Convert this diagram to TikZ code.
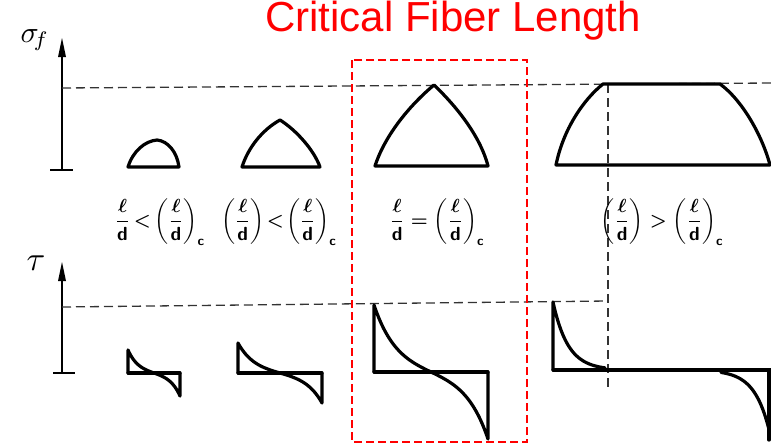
\documentclass[tikz,border=0pt]{standalone}
\usepackage{fontspec}
\newfontfamily\titlefont{Liberation Sans}
\begin{document}
\begin{tikzpicture}[x=1pt, y=-1pt,
   prof/.style={line width=3.2pt, line join=round, line cap=round},
   stem/.style={line width=2.6pt},
   guide/.style={line width=1.3pt, black!80, dash pattern=on 9pt off 5pt},
   redbox/.style={line width=2.4pt, red, dash pattern=on 8pt off 4pt},
   ratio/.style={scale=1.9, font=\boldmath}]
   \useasboundingbox (0,0) rectangle (771,447);
   % title
   \node[text=red, font=\titlefont\fontsize{42}{48}\selectfont] (title) at (453,21) {Critical Fiber Length};
   % axes
   \draw[stem] (62,170) -- (62,50);
   \fill (62,38) -- (66,57) -- (58,57) -- cycle;
   \draw[stem] (50,170) -- (73,170);
   \node[scale=3, inner sep=0pt] (sig) at (35,40) {$\sigma_{\!f}$};
   \draw[stem] (62,373) -- (62,274);
   \fill (62,262) -- (66,281) -- (58,281) -- cycle;
   \draw[stem] (53,373) -- (75,373);
   \node[scale=3.4, inner sep=0pt] (tau) at (36,263) {$\tau$};
   % guide lines
   \draw[guide] (62,88) -- (771,83);
   \draw[guide] (62,307) -- (608,301);
   \draw[guide] (608,84) -- (608,390);
   % stress profiles
   \draw[prof] (128,167) .. controls (133,151) and (145,141) .. (157,140)
               .. controls (168,141) and (177,152) .. (179,167) -- cycle;
   \draw[prof] (242,167) .. controls (248,148) and (262,130) .. (280,120)
               .. controls (296,130) and (314,150) .. (320,167) -- cycle;
   \draw[prof] (375,166) .. controls (385,135) and (410,105) .. (434,85)
               .. controls (455,105) and (480,135) .. (488,166) -- cycle;
   \draw[prof] (556,165) .. controls (563,130) and (583,100) .. (603,84) -- (720,84)
               .. controls (742,100) and (762,135) .. (770,165) -- cycle;
   % ratios
   \node[ratio] (r1) at (160,222) {$\displaystyle\frac{\ell}{\mathsf d} \mskip-2mu<\mskip-2mu \left(\frac{\ell}{\mathsf d}\right)_{\mathsf c}$};
   \node[ratio] (r2) at (279,222) {$\displaystyle\left(\frac{\ell}{\mathsf d}\right)\!<\!\left(\frac{\ell}{\mathsf d}\right)_{\mathsf c}$};
   \node[ratio] (r3) at (437,222) {$\displaystyle\frac{\ell}{\mathsf d} = \left(\frac{\ell}{\mathsf d}\right)_{\mathsf c}$};
   \node[ratio] (r4) at (662,222) {$\displaystyle\left(\frac{\ell}{\mathsf d}\right) > \left(\frac{\ell}{\mathsf d}\right)_{\mathsf c}$};
   % shear profiles
   \draw[prof] (128,373) -- (180,373);
   \draw[prof] (128,373) -- (128,350) -- plot[domain=128:180, samples=40]
               (\x,{373-23*sinh(2.5*(154-\x)/26)/sinh(2.5)}) -- (180,373);
   \draw[prof] (238,373) -- (322,373);
   \draw[prof] (238,373) -- (238,343) -- plot[domain=238:322, samples=50]
               (\x,{373-30*sinh(2.5*(280-\x)/42)/sinh(2.5)}) -- (322,373);
   \draw[prof] (374,372) -- (488,372);
   \draw[prof] (374,372) -- (374,305) -- plot[domain=374:488, samples=60]
               (\x,{372-67*sinh(2.5*(431-\x)/57)/sinh(2.5)}) -- (488,372);
   \draw[prof] (553,370) -- (553,302) -- plot[domain=553:605, samples=40]
               (\x,{370-68*exp(-(\x-553)/15)});
   \draw[prof] (553,370) -- (771,370);
   \draw[prof] plot[domain=721:769, samples=40] (\x,{370+68*exp(-(771-\x)/15)});
   \draw[prof] (769,370) -- (769,440);
   % critical box
   \draw[redbox] (352,60) rectangle (527,442);
\end{tikzpicture}
\end{document}
